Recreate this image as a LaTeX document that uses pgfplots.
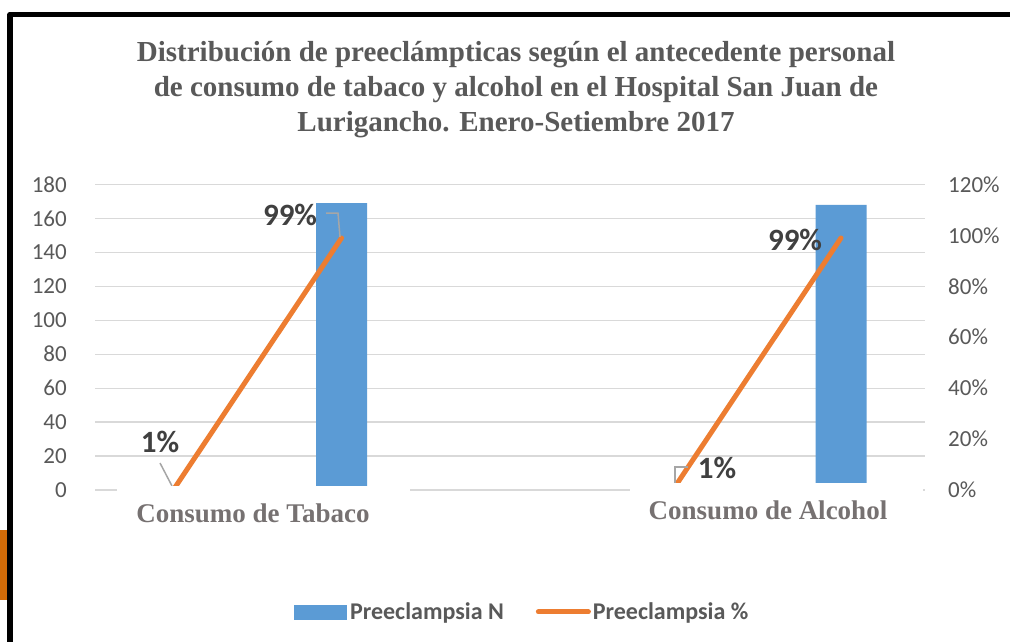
\documentclass[border=0pt]{standalone}
\usepackage{fontspec}
\usepackage{pgfplots}
\pgfplotsset{compat=1.18}
\setmainfont{Liberation Serif}
\newfontfamily\calibri{Carlito}
\newfontfamily\tnr{Liberation Serif}
\definecolor{barblue}{HTML}{5B9BD5}
\definecolor{lineorange}{HTML}{ED7D31}
\definecolor{gridgray}{HTML}{D9D9D9}
\definecolor{tickgray}{HTML}{595959}
\definecolor{titlegray}{HTML}{595959}
\definecolor{catgray}{HTML}{767171}
\definecolor{labelgray}{HTML}{404040}
\definecolor{leadergray}{HTML}{A6A6A6}
\definecolor{sideorange}{HTML}{D26B08}
\begin{document}
\begin{tikzpicture}[x=1pt,y=1pt]
\path[use as bounding box, fill=white] (0,0) rectangle (1010,642);
% frame
\fill[sideorange] (0,42) rectangle (7,112);
\draw[line width=5.5pt, line join=round] (10,0) -- (10,627.5) -- (1012,627.5);
% title
\node[font=\tnr\bfseries\fontsize{29}{35}\selectfont, text=titlegray, align=center] at (516,552)
 {Distribución de preeclámpticas según el antecedente personal\\
  de consumo de tabaco y alcohol en el Hospital San Juan de\\
  Lurigancho. Enero-Setiembre 2017};
\begin{axis}[
  at={(95pt,152pt)}, anchor=south west,
  width=830pt, height=305.5pt, scale only axis,
  xmin=-0.4805, xmax=4.5045, ymin=0, ymax=180,
  ytick={0,20,...,180}, xtick=\empty,
  axis line style={draw=none}, major tick length=0pt,
  ymajorgrids, grid style={color=gridgray, line width=1.3pt},
  /pgf/number format/assume math mode=true,
  yticklabel style={font=\calibri\fontsize{23}{23}\selectfont, text=tickgray, inner sep=0pt, xshift=-28pt},
]
\addplot[ybar, bar width=51pt, fill=barblue, draw=none] coordinates {(1,169) (4,168)};
\end{axis}
\begin{axis}[
  at={(95pt,152pt)}, anchor=south west,
  width=830pt, height=305.5pt, scale only axis, clip=false,
  xmin=-0.4805, xmax=4.5045, ymin=0, ymax=120,
  ytick={0,20,...,120}, axis y line*=right, axis x line=none,
  axis line style={draw=none}, major tick length=0pt,
  /pgf/number format/assume math mode=true,
  yticklabel={\pgfmathprintnumber{\tick}\%},
  yticklabel style={font=\calibri\fontsize{23}{23}\selectfont, text=tickgray, inner sep=0pt, xshift=23pt},
  legend style={at={(0.5145,-0.399)}, anchor=center, draw=none, fill=none,
    legend columns=2, font=\calibri\bfseries\fontsize{24}{24}\selectfont, text=tickgray,
    /tikz/every even column/.append style={column sep=30pt}},
]
\addlegendimage{legend image code/.code={\fill[barblue] (0pt,-7pt) rectangle (52pt,7pt); \path (54pt,0pt);}}
\addlegendentry{Preeclampsia N}
\addplot[lineorange, line width=5pt, line cap=round,
  legend image code/.code={\draw[lineorange, line width=5pt, line cap=round] (2.5pt,0pt) -- (52.5pt,0pt);}]
  coordinates {(0,1) (1,99)};
\addlegendentry{Preeclampsia \%}
\addplot[lineorange, line width=5pt, line cap=round, forget plot] coordinates {(3,1) (4,99)};
% leader lines
\draw[leadergray, line width=1.5pt] (axis cs:0.907,108.8) -- (axis cs:0.979,108.8) -- (axis cs:0.991,99.4);
\draw[leadergray, line width=1.5pt] (axis cs:-0.090,10.6) -- (axis cs:-0.018,1.57);
\draw[leadergray, line width=1.5pt] (axis cs:3.003,2.75) -- (axis cs:3.003,9.03) -- (axis cs:3.081,9.03);
% data labels
\node[font=\calibri\bfseries\fontsize{31}{31}\selectfont, text=labelgray] at (axis cs:0.691,108.0) {99\%};
\node[font=\calibri\bfseries\fontsize{31}{31}\selectfont, text=labelgray] at (axis cs:-0.090,18.9) {1\%};
\node[font=\calibri\bfseries\fontsize{31}{31}\selectfont, text=labelgray] at (axis cs:3.724,98.2) {99\%};
\node[font=\calibri\bfseries\fontsize{31}{31}\selectfont, text=labelgray] at (axis cs:3.255,8.64) {1\%};
\end{axis}
% category label boxes
\fill[white] (117,97) rectangle (410,156);
\fill[white] (630,97) rectangle (923,159);
\node[font=\tnr\bfseries\fontsize{27}{27}\selectfont, text=catgray] at (253,129) {Consumo de Tabaco};
\node[font=\tnr\bfseries\fontsize{27}{27}\selectfont, text=catgray] at (768,132) {Consumo de Alcohol};
\end{tikzpicture}
\end{document}
